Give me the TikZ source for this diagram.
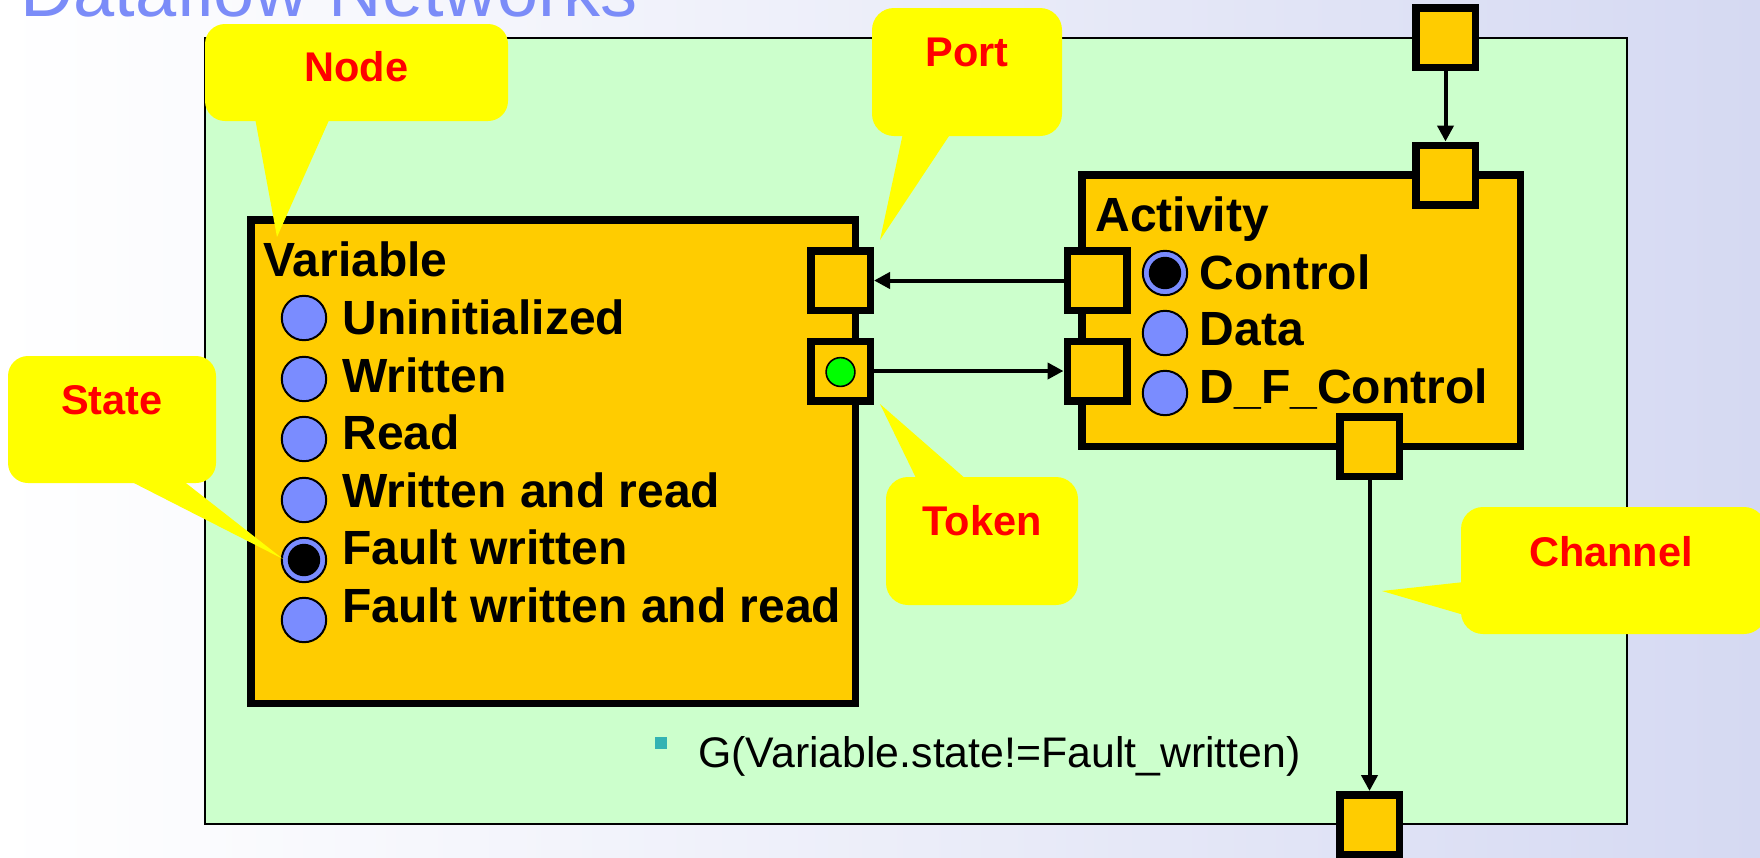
\documentclass[tikz,border=0pt]{standalone}
\usepackage{fontspec}
\setmainfont{Liberation Sans}
\usetikzlibrary{arrows.meta}

\definecolor{panelgreen}{HTML}{CCFFCC}
\definecolor{boxorange}{HTML}{FFCC00}
\definecolor{calloutyellow}{HTML}{FFFF00}
\definecolor{statecol}{HTML}{7A8CFF}
\definecolor{titleblue}{HTML}{7B8CF8}
\definecolor{bulletteal}{HTML}{33B3B3}
\definecolor{bglavender}{HTML}{D5D9F2}
\definecolor{tokengreen}{HTML}{00FF00}

\begin{document}
\begin{tikzpicture}[x=0.5pt,y=-0.5pt,
  panel/.style={draw=black, fill=panelgreen, line width=1pt, inner sep=0,
    minimum width=711pt, minimum height=393pt},
  bigbox/.style={draw=black, fill=boxorange, line width=3.75pt, inner sep=0},
  portbox/.style={draw=black, fill=boxorange, line width=3.75pt, inner sep=0,
    outer sep=1.875pt, minimum size=29.75pt},
  boxtext/.style={font=\fontsize{24}{28}\selectfont\bfseries, anchor=base west, inner sep=0},
  callouttext/.style={font=\fontsize{20.75}{25}\selectfont\bfseries, text=red, anchor=base, inner sep=0},
  state/.style={circle, draw=black, fill=statecol, line width=1pt, inner sep=0, minimum size=22.2pt},
  activedot/.style={circle, draw=black, fill=black, line width=0.6pt, inner sep=0, minimum size=15.6pt},
  token/.style={circle, draw=black, fill=tokengreen, line width=0.8pt, inner sep=0, minimum size=14.4pt},
  conn/.style={line width=2pt, -{Triangle[length=8pt,width=8pt]}},
  callout/.style={fill=calloutyellow}
]
\useasboundingbox (0,0) rectangle (1760,857);
\clip (0,0) rectangle (1760,857);

% slide background
\shade[left color=white, right color=bglavender, middle color=white!55!bglavender] (0,0) rectangle (1760,857);

% title
\node[anchor=base west, inner sep=0, font=\fontsize{37}{44}\selectfont, text=titleblue]
  (title) at (20,16) {Dataflow Networks};

% green network panel
\node[panel] (panel) at (916,431) {};

% Variable node
\node[bigbox, minimum width=302.25pt, minimum height=241.75pt] (variable) at (553,461.5) {};
\node[boxtext] (varname) at (263,276) {Variable};
\node[boxtext] (s1) at (342,334) {Uninitialized};
\node[boxtext] (s2) at (342,392) {Written};
\node[boxtext] (s3) at (342,449) {Read};
\node[boxtext] (s4) at (342,507) {Written and read};
\node[boxtext] (s5) at (342,564) {Fault written};
\node[boxtext] (s6) at (342,622) {Fault written and read};
\node[state] (c1) at (304,318) {};
\node[state] (c2) at (304,379) {};
\node[state] (c3) at (304,439) {};
\node[state] (c4) at (304,500) {};
\node[state] (c5) at (304,560) {};
\node[activedot] (c5dot) at (304,560) {};
\node[state] (c6) at (304,620) {};

% Activity node
\node[bigbox, minimum width=219.25pt, minimum height=135.75pt] (activity) at (1301,310.5) {};
\node[boxtext] (actname) at (1095,231) {Activity};
\node[boxtext] (a1) at (1199.5,289) {Control};
\node[boxtext] (a2) at (1199.5,345) {Data};
\node[boxtext] (a3) at (1199.5,403) {D\_F\_Control};
\node[state] (d1) at (1165,273) {};
\node[activedot] (d1dot) at (1165,273) {};
\node[state] (d2) at (1165,333) {};
\node[state] (d3) at (1165,393) {};

% ports
\node[portbox] (vp1) at (840.5,280.5) {};
\node[portbox] (vp2) at (840.5,371) {};
\node[token] (tok) at (840.5,372) {};
\node[portbox] (ap1) at (1097,280.5) {};
\node[portbox] (ap2) at (1097,371) {};
\node[portbox] (atop) at (1445.5,175) {};
\node[portbox] (abot) at (1369.5,446.5) {};
\node[portbox] (extin) at (1445.5,37.5) {};
\node[portbox] (extout) at (1369.5,824.5) {};

% channels
\draw[conn] (ap1.west) -- (vp1.east);
\draw[conn] (vp2.east) -- (ap2.west);
\draw[conn] (extin.south) -- (atop.north);
\draw[conn] (abot.south) -- (extout.north);

% property
\fill[bulletteal] (655,737) rectangle (667,749);
\node[anchor=base west, inner sep=0, font=\fontsize{21.4}{26}\selectfont] (prop) at (698,767)
  {G(Variable.state!=Fault\_written)};

% callouts
\fill[callout, rounded corners=10pt] (205,24) rectangle (508,121);
\fill[callout] (255,118) -- (330,118) -- (277,237) -- cycle;
\node[callouttext] (lnode) at (356.5,81) {Node};

\fill[callout, rounded corners=11pt] (872,8) rectangle (1062,136);
\fill[callout] (903,133) -- (951,133) -- (880,240) -- cycle;
\node[callouttext] (lport) at (967,66) {Port};

\fill[callout, rounded corners=11pt] (886,477) rectangle (1078,605);
\fill[callout] (917,480) -- (967,480) -- (880,404) -- cycle;
\node[callouttext] (ltoken) at (982,535) {Token};

\fill[callout, rounded corners=10pt] (8,356) rectangle (216,483);
\fill[callout] (128,480) -- (182,480) -- (283,559) -- cycle;
\node[callouttext] (lstate) at (112,414) {State};

\fill[callout, rounded corners=11pt] (1461,507) rectangle (1766,634);
\fill[callout] (1464,582) -- (1464,615) -- (1382,591) -- cycle;
\node[callouttext] (lchannel) at (1611,566) {Channel};
\end{tikzpicture}
\end{document}
